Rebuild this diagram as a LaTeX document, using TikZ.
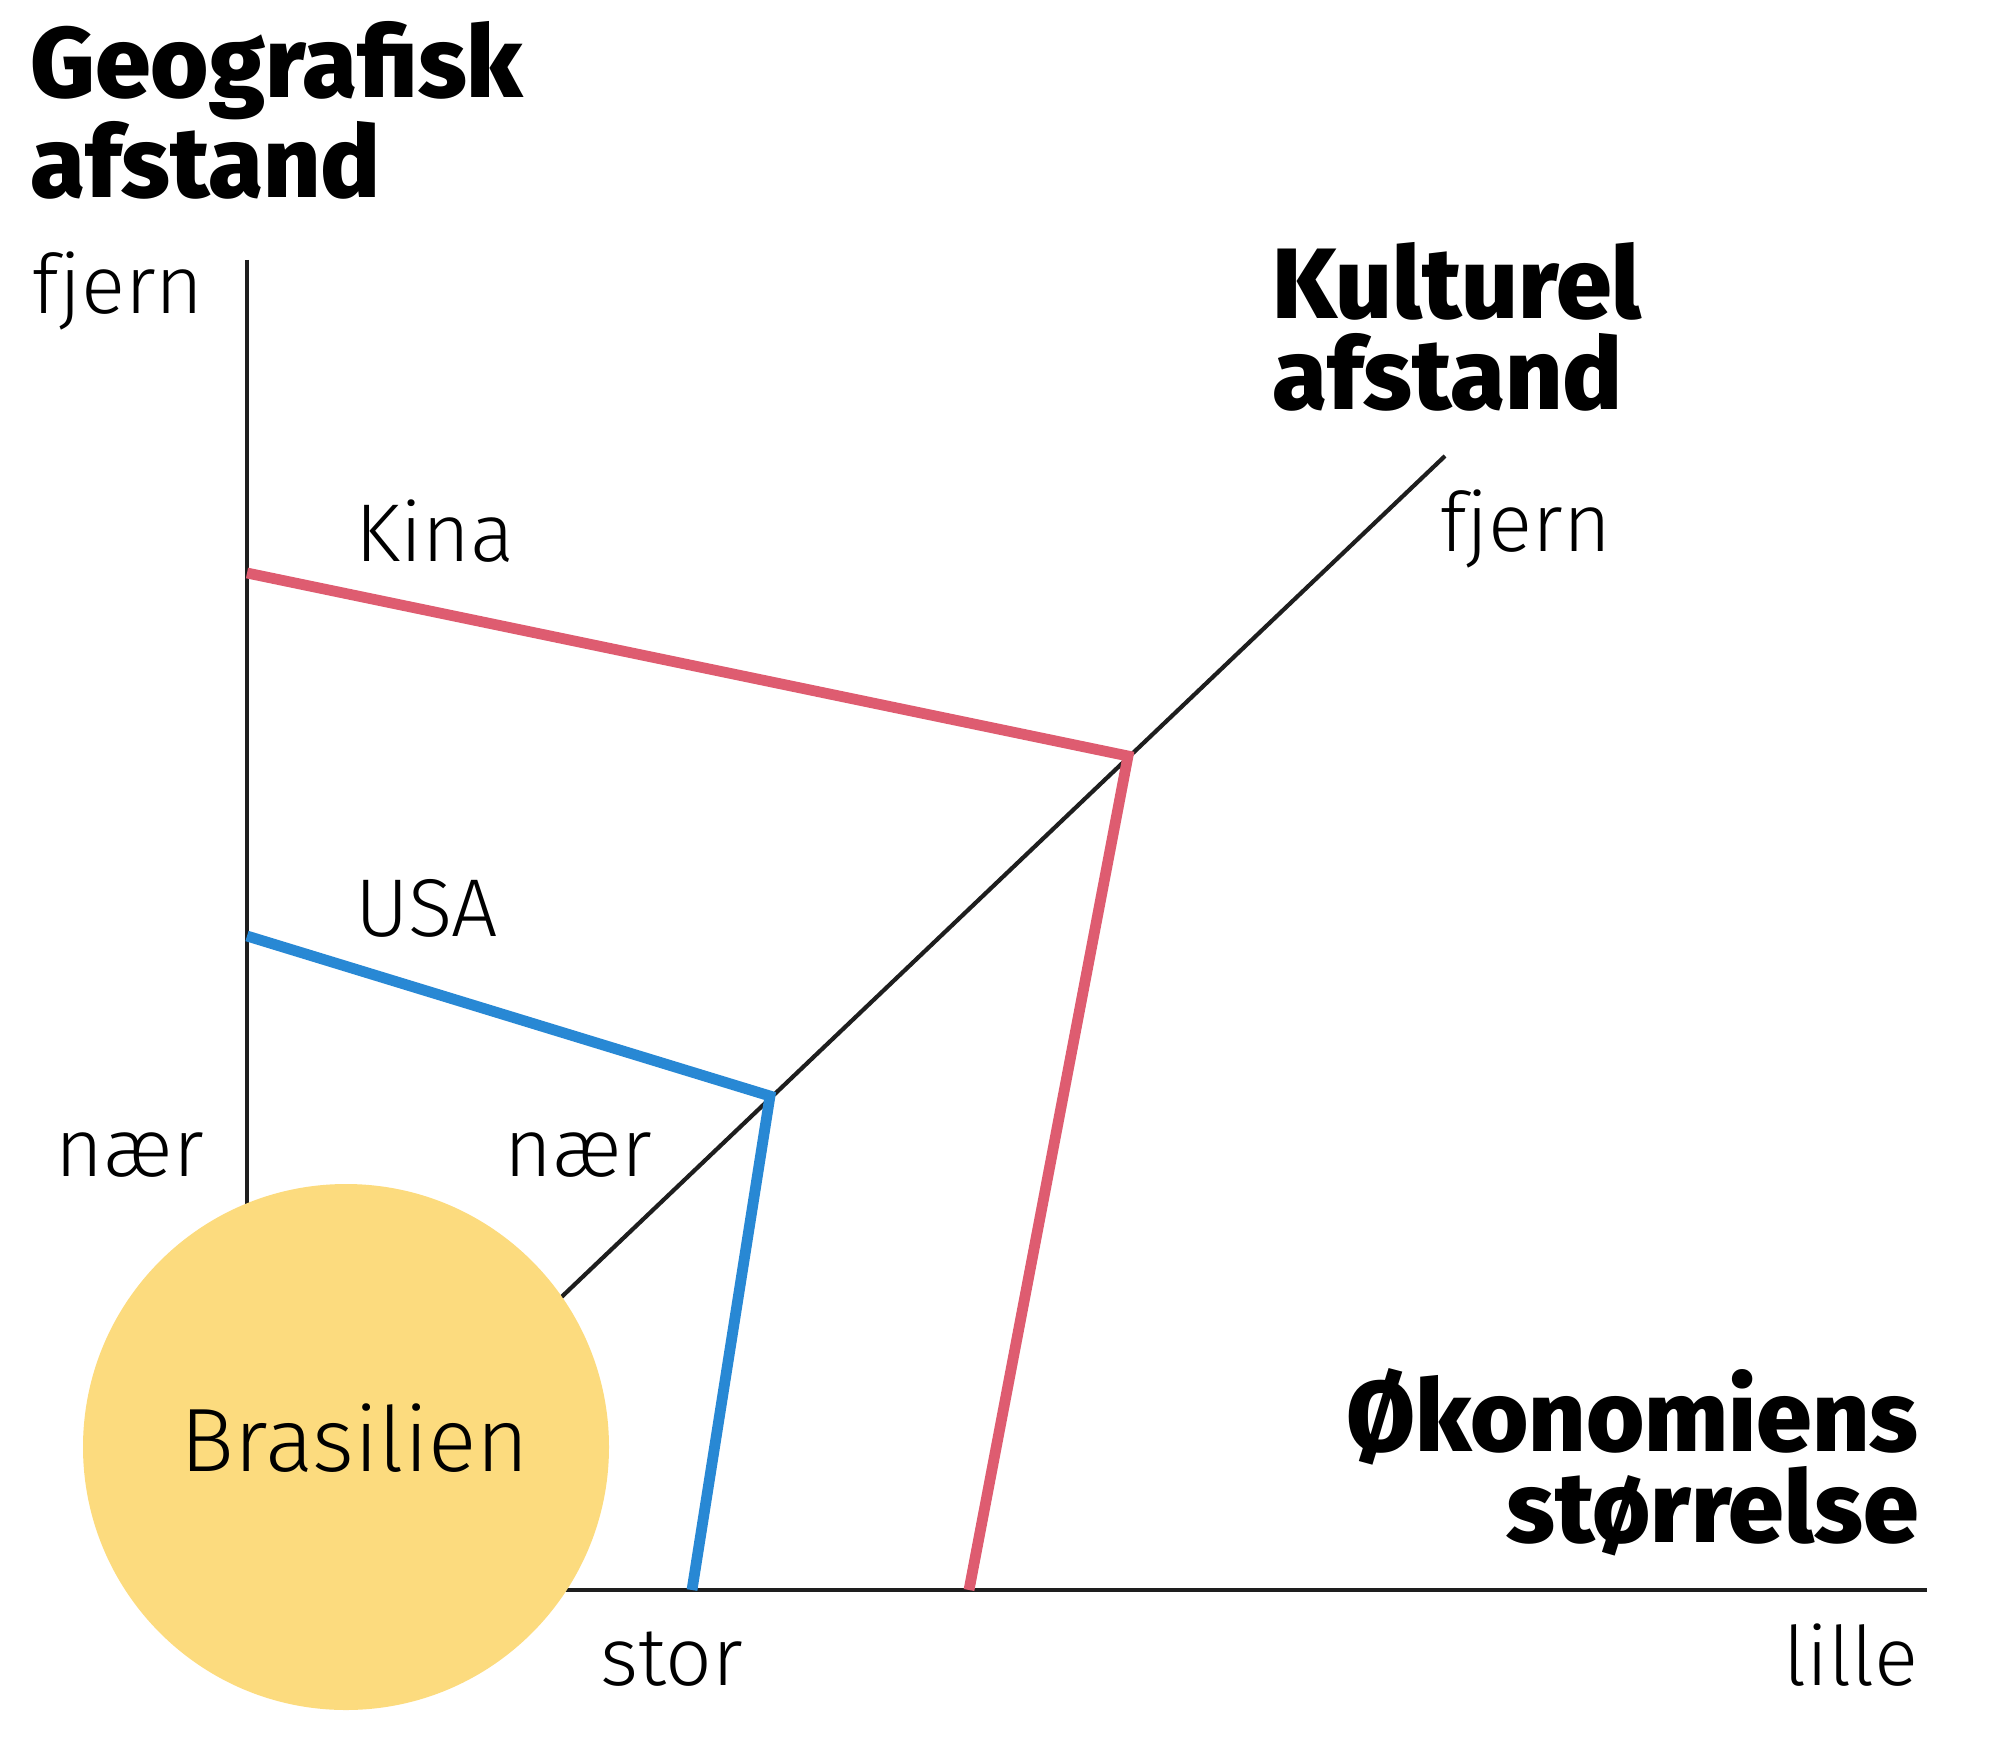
\documentclass[tikz,border=0pt]{standalone}
\usepackage{fontspec}
\setmainfont{Fira Sans Light}[BoldFont={Fira Sans ExtraBold}]
\definecolor{kinared}{RGB}{222,92,112}
\definecolor{usablue}{RGB}{40,136,212}
\definecolor{brasyellow}{RGB}{252,219,126}
\definecolor{axisgray}{RGB}{30,30,30}
\begin{document}
\begin{tikzpicture}[x=0.5pt,y=-0.5pt,
  lbl/.style={inner sep=0pt,font=\fontsize{41}{48}\selectfont},
  ttl/.style={inner sep=0pt,font=\fontsize{50}{45.5}\selectfont\bfseries},
  axisline/.style={draw=axisgray,line width=2.1pt},
  kinaline/.style={draw=kinared,line width=5.4pt,line join=miter},
  usaline/.style={draw=usablue,line width=5.4pt,line join=miter}]
\useasboundingbox (0,0) rectangle (2000,1764);
% coordinates
\coordinate (vtop) at (247,260);
\coordinate (vbot) at (247,1300);
\coordinate (dtop) at (1445,456);
\coordinate (dbot) at (364,1485);
\coordinate (hleft) at (400,1590);
\coordinate (hright) at (1927,1590);
\coordinate (kinaA) at (247,573);
\coordinate (kinaB) at (1128,756);
\coordinate (kinaC) at (969,1590);
\coordinate (usaA) at (247,936);
\coordinate (usaB) at (770,1096);
\coordinate (usaC) at (692,1590);
% axes
\draw[axisline] (vtop) -- (vbot);
\draw[axisline] (dbot) -- (dtop);
\draw[axisline] (hleft) -- (hright);
% country lines
\draw[kinaline] (kinaA) -- (kinaB) -- (kinaC);
\draw[usaline] (usaA) -- (usaB) -- (usaC);
% Brasilien circle
\node[circle,fill=brasyellow,minimum size=263pt,inner sep=0pt] (bras) at (346,1447) {};
\node[lbl,anchor=base,font=\fontsize{45}{50}\selectfont] (brastext) at (355,1471) {Brasilien};
% titles
\node[ttl,anchor=base west,align=left] (geo) at (30,198) {Geografisk\\afstand};
\node[ttl,anchor=base west,align=left] (kul) at (1272,410) {Kulturel\\afstand};
\node[ttl,anchor=base east,align=right] (oko) at (1919,1542) {Økonomiens\\størrelse};
% labels
\node[lbl,anchor=base east] (vfjern) at (204,314) {fjern};
\node[lbl,anchor=base east] (vnaer) at (204,1176) {nær};
\node[lbl,anchor=base west] (dfjern) at (1440,552) {fjern};
\node[lbl,anchor=base west] (dnaer) at (504,1176) {nær};
\node[lbl,anchor=base west] (kina) at (355,561) {Kina};
\node[lbl,anchor=base west] (usa) at (355,936) {USA};
\node[lbl,anchor=base west] (stor) at (600,1685) {stor};
\node[lbl,anchor=base east] (lille) at (1919,1685) {lille};
\end{tikzpicture}
\end{document}
